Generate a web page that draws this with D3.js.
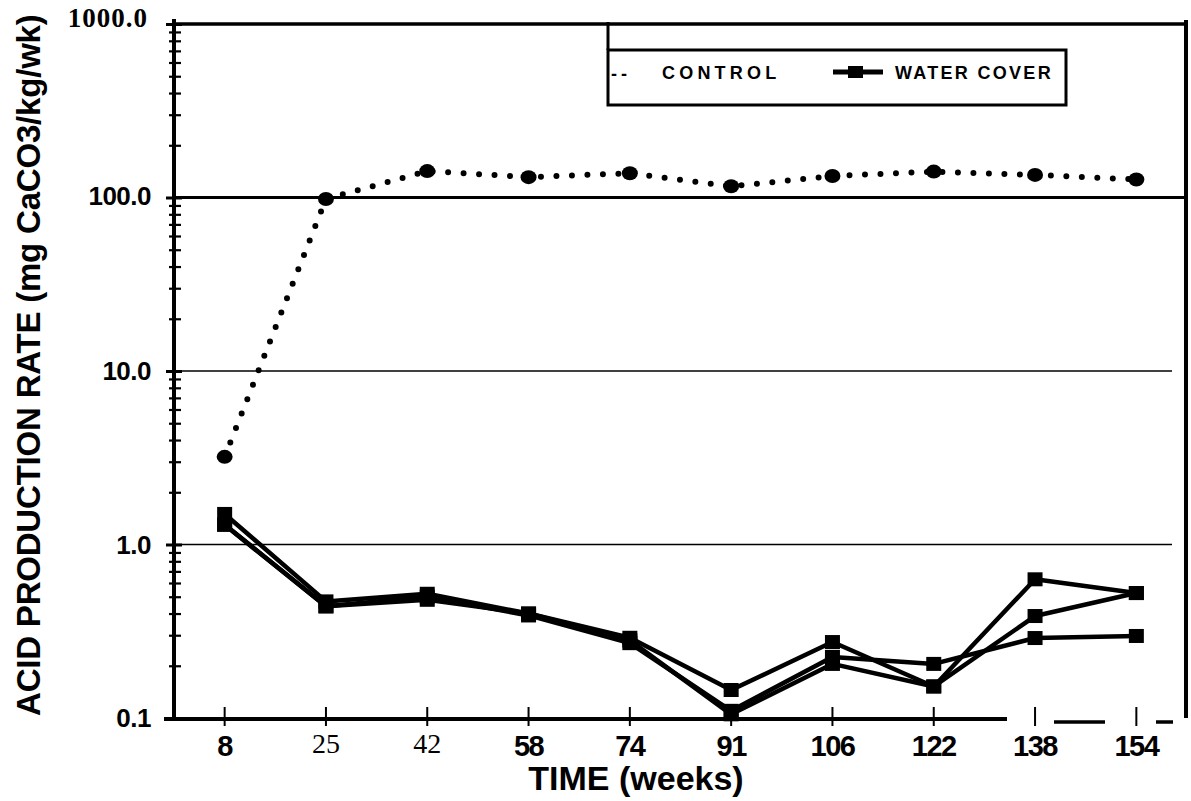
<!DOCTYPE html>
<html>
<head>
<meta charset="utf-8">
<script src="https://cdn.jsdelivr.net/npm/d3@7"></script>
<style>
  html, body { margin: 0; padding: 0; background: #fff; }
  svg { display: block; }
</style>
</head>
<body>
<svg id="chart" width="1191" height="801"></svg>
<script>
// Acid production rate, control vs. water-covered columns (log scale)
const weeks = [8, 25, 42, 58, 74, 91, 106, 122, 138, 154];
const weekLabels = ["8", "25", "42", "58", "74", "91", "106", "122", "138", "154"];
const control = [3.2, 98, 142, 131, 138, 116, 133, 141, 135, 127];
const waterA = [1.5, 0.47, 0.52, 0.40, 0.29, 0.145, 0.274, 0.152, 0.63, 0.525];
const waterB = [1.3, 0.44, 0.48, 0.40, 0.28, 0.105, 0.205, 0.152, 0.387, 0.525];
const waterC = [1.3, 0.44, 0.50, 0.39, 0.27, 0.11, 0.225, 0.205, 0.289, 0.297];
const yTicks = [0.1, 1, 10, 100, 1000];
const yTickLabels = ["0.1", "1.0", "10.0", "100.0", "1000.0"];

const SANS = "'Liberation Sans', Arial, Helvetica, sans-serif";
const SERIF = "'Liberation Serif', 'Times New Roman', serif";

const svg = d3.select("#chart");

const x = d3.scalePoint().domain(weeks).range([174, 1187]).padding(0.5);
const y = d3.scaleLog().domain([0.1, 1000]).range([718, 24]);

// horizontal grid lines at decades
svg.append("g").selectAll("line")
  .data([1, 10, 100, 1000])
  .join("line")
  .attr("x1", 174)
  .attr("x2", d => (d === 100 || d === 1000) ? 1186 : 1172)
  .attr("y1", d => y(d)).attr("y2", d => y(d))
  .attr("stroke", "#000")
  .attr("stroke-width", d => d === 100 ? 3 : d === 1000 ? 3.5 : 1.6);

// minor log ticks crossing the y axis
const minorVals = [];
[0.1, 1, 10, 100].forEach(b => { for (let k = 2; k <= 9; k++) minorVals.push(b * k); });
const minorAxis = svg.append("g")
  .attr("transform", "translate(181,0)")
  .call(d3.axisLeft(y).tickValues(minorVals).tickSize(12).tickSizeOuter(0).tickFormat(""));
minorAxis.select(".domain").remove();
minorAxis.selectAll(".tick line").attr("stroke", "#000").attr("stroke-width", 2.2);

// major y ticks
const majorAxis = svg.append("g")
  .attr("transform", "translate(182,0)")
  .call(d3.axisLeft(y).tickValues(yTicks).tickSize(16).tickSizeOuter(0).tickFormat(""));
majorAxis.select(".domain").remove();
majorAxis.selectAll(".tick line").attr("stroke", "#000").attr("stroke-width", 3);

// y axis line
svg.append("line").attr("x1", 174).attr("x2", 174).attr("y1", 19).attr("y2", 721)
  .attr("stroke", "#000").attr("stroke-width", 4);

// y tick labels
svg.append("g").selectAll("text")
  .data(yTicks)
  .join("text")
  .attr("x", (d, i) => i === 4 ? 148 : 151)
  .attr("y", d => y(d) + (d === 1000 ? 3 : d === 100 ? 7 : 9))
  .attr("text-anchor", "end")
  .attr("font-family", (d, i) => i === 4 ? SERIF : SANS)
  .attr("font-weight", "bold")
  .attr("font-size", (d, i) => i === 4 ? 27 : 26)
  .attr("letter-spacing", (d, i) => i === 4 ? 1 : -0.5)
  .text((d, i) => yTickLabels[i]);

// x axis line, broken towards the right end
const xAxis = svg.append("g")
  .attr("transform", "translate(0,719)")
  .call(d3.axisBottom(x).tickSize(0).tickSizeOuter(0).tickFormat(""));
xAxis.select(".domain").remove();
svg.append("line").attr("x1", 164).attr("x2", 1007).attr("y1", 719).attr("y2", 719)
  .attr("stroke", "#000").attr("stroke-width", 4);
[[1054, 1105], [1156, 1173]].forEach(([a, b]) => {
  svg.append("line").attr("x1", a).attr("x2", b).attr("y1", 722).attr("y2", 722)
    .attr("stroke", "#000").attr("stroke-width", 3.5);
});
// x ticks
svg.append("g").selectAll("line")
  .data(weeks)
  .join("line")
  .attr("x1", d => x(d)).attr("x2", d => x(d))
  .attr("y1", 707).attr("y2", 726)
  .attr("stroke", "#000").attr("stroke-width", 2);

// x tick labels
svg.append("g").selectAll("text")
  .data(weeks)
  .join("text")
  .attr("x", d => x(d))
  .attr("y", (d, i) => (i === 1 || i === 2) ? 753 : 756)
  .attr("text-anchor", "middle")
  .attr("font-family", (d, i) => (i === 1 || i === 2) ? SERIF : SANS)
  .attr("font-weight", (d, i) => (i === 1 || i === 2) ? "normal" : "bold")
  .attr("font-size", (d, i) => (i === 1 || i === 2) ? 28 : 29)
  .attr("letter-spacing", (d, i) => (i === 1 || i === 2) ? 0 : -1.5)
  .text((d, i) => weekLabels[i]);

// axis titles
svg.append("text")
  .attr("x", 636).attr("y", 790)
  .attr("text-anchor", "middle")
  .attr("font-family", SANS).attr("font-weight", "bold").attr("font-size", 34)
  .text("TIME (weeks)");

svg.append("text")
  .attr("transform", "translate(40,716) rotate(-90)")
  .attr("x", 0).attr("y", 0)
  .attr("text-anchor", "start")
  .attr("font-family", SANS).attr("font-weight", "bold").attr("font-size", 33)
  .attr("letter-spacing", -0.2)
  .text("ACID PRODUCTION RATE (mg CaCO3/kg/wk)");

// right frame edge
svg.append("line").attr("x1", 1186).attr("x2", 1186).attr("y1", 20).attr("y2", 718)
  .attr("stroke", "#000").attr("stroke-width", 4);

// water cover replicates
const line = d3.line().x((d, i) => x(weeks[i])).y(d => y(d));
const waterSeries = [waterA, waterB, waterC];
svg.append("g").selectAll("path")
  .data(waterSeries)
  .join("path")
  .attr("d", d => line(d))
  .attr("fill", "none")
  .attr("stroke", "#000")
  .attr("stroke-width", 4.5)
  .attr("stroke-linejoin", "round");
waterSeries.forEach(s => {
  svg.append("g").selectAll("rect")
    .data(s)
    .join("rect")
    .attr("x", (d, i) => x(weeks[i]) - 7.5)
    .attr("y", d => y(d) - 7)
    .attr("width", 15).attr("height", 14)
    .attr("fill", "#000");
});

// control: dotted line with large dots at sampling times
svg.append("path")
  .attr("d", line(control))
  .attr("fill", "none")
  .attr("stroke", "#000")
  .attr("stroke-width", 6)
  .attr("stroke-linecap", "round")
  .attr("stroke-dasharray", "0 15.5");
svg.append("g").selectAll("ellipse")
  .data(control)
  .join("ellipse")
  .attr("cx", (d, i) => x(weeks[i]))
  .attr("cy", d => y(d))
  .attr("rx", 8).attr("ry", 7)
  .attr("fill", "#000");

// legend (left edge runs up to the top frame line)
const lg = svg.append("g");
lg.append("rect").attr("x", 608).attr("y", 50).attr("width", 458).attr("height", 55)
  .attr("fill", "#fff").attr("stroke", "#000").attr("stroke-width", 3);
lg.append("line").attr("x1", 608).attr("x2", 608).attr("y1", 22).attr("y2", 50)
  .attr("stroke", "#000").attr("stroke-width", 3);
lg.append("text").attr("x", 611).attr("y", 80)
  .attr("font-family", SANS).attr("font-weight", "bold").attr("font-size", 18)
  .attr("letter-spacing", 4).text("--");
lg.append("text").attr("x", 662).attr("y", 79)
  .attr("font-family", SANS).attr("font-weight", "bold").attr("font-size", 18)
  .attr("letter-spacing", 4.2).text("CONTROL");
lg.append("line").attr("x1", 833).attr("x2", 883).attr("y1", 72).attr("y2", 72)
  .attr("stroke", "#000").attr("stroke-width", 5);
lg.append("rect").attr("x", 848).attr("y", 66).attr("width", 15).attr("height", 12)
  .attr("fill", "#000");
lg.append("text").attr("x", 895).attr("y", 79)
  .attr("font-family", SANS).attr("font-weight", "bold").attr("font-size", 18)
  .attr("letter-spacing", 2.3).text("WATER COVER");
</script>
</body>
</html>
